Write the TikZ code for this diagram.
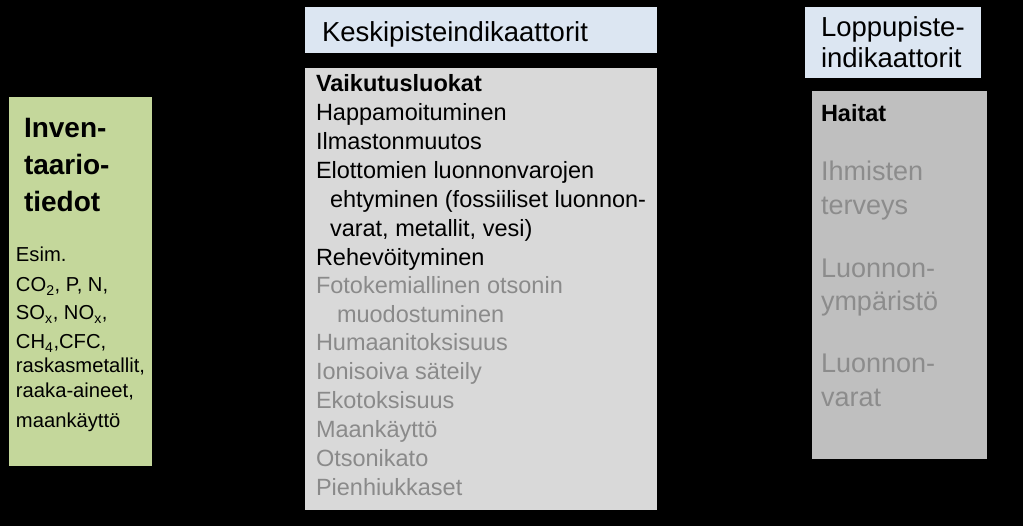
\documentclass[tikz,border=0pt]{standalone}
\usepackage{fontspec}
\setmainfont{Liberation Sans}
\definecolor{greenbox}{HTML}{C4D79B}
\definecolor{headbox}{HTML}{DCE6F2}
\definecolor{midbox}{HTML}{D9D9D9}
\definecolor{endbox}{HTML}{BFBFBF}
\definecolor{dimtext}{HTML}{8A8A8A}
\definecolor{dimtextb}{HTML}{8C8C8C}
\tikzset{
  panel/.style={anchor=north west, inner sep=0pt, outer sep=0pt, draw=none},
  txt/.style={anchor=base west, inner sep=0pt, outer sep=0pt},
  midtxt/.style={txt, font=\fontsize{23.5}{28}\selectfont},
  headtxt/.style={txt, font=\fontsize{27.5}{31}\selectfont},
  endtxt/.style={txt, font=\fontsize{27}{31}\selectfont, text=dimtextb},
  invtxt/.style={txt, font=\fontsize{20.2}{22}\selectfont},
  invhead/.style={txt, font=\bfseries\fontsize{28}{37}\selectfont},
}
\begin{document}
\begin{tikzpicture}[x=1pt,y=-1pt]
\fill[black] (0,0) rectangle (1023,526);
\useasboundingbox (0,0) rectangle (1023,526);
% boxes
\node[panel, fill=greenbox, minimum width=143pt, minimum height=369pt] (inv) at (9,97) {};
\node[panel, fill=headbox, minimum width=352pt, minimum height=46pt] (midhead) at (305,7) {};
\node[panel, fill=midbox, minimum width=352pt, minimum height=442pt] (mid) at (305,68) {};
\node[panel, fill=headbox, minimum width=176pt, minimum height=71pt] (endhead) at (805,7) {};
\node[panel, fill=endbox, minimum width=175pt, minimum height=368pt] (end) at (812,91) {};
% inventory text
\node[invhead] (i1) at (24,138) {Inven-};
\node[invhead] (i2) at (24,175) {taario-};
\node[invhead] (i3) at (24,212) {tiedot};
\node[invtxt] (e1) at (16,262) {Esim.};
\node[invtxt] (e2) at (16,292) {CO\textsubscript{2}, P, N,};
\node[invtxt] (e3) at (16,320) {SO\textsubscript{x}, NO\textsubscript{x},};
\node[invtxt] (e4) at (16,349) {CH\textsubscript{4},CFC,};
\node[invtxt] (e5) at (16,373) {raskasmetallit,};
\node[invtxt] (e6) at (16,398) {raaka-aineet,};
\node[invtxt] (e7) at (16,428) {maankäyttö};
% midpoint header
\node[headtxt] (mh) at (322,42) {Keskipisteindikaattorit};
% midpoint list
\node[midtxt, font=\bfseries\fontsize{23.5}{28}\selectfont] (m0) at (316,92) {Vaikutusluokat};
\node[midtxt] (m1) at (316,121) {Happamoituminen};
\node[midtxt] (m2) at (316,150) {Ilmastonmuutos};
\node[midtxt] (m3) at (316,179) {Elottomien luonnonvarojen};
\node[midtxt] (m3b) at (330,208) {ehtyminen (fossiiliset luonnon-};
\node[midtxt] (m3c) at (330,237) {varat,  metallit, vesi)};
\node[midtxt] (m4) at (316,266) {Rehevöityminen};
\node[midtxt, text=dimtext] (m5) at (316,294) {Fotokemiallinen otsonin};
\node[midtxt, text=dimtext] (m5b) at (337,323) {muodostuminen};
\node[midtxt, text=dimtext] (m6) at (316,351) {Humaanitoksisuus};
\node[midtxt, text=dimtext] (m7) at (316,380) {Ionisoiva säteily};
\node[midtxt, text=dimtext] (m8) at (316,409) {Ekotoksisuus};
\node[midtxt, text=dimtext] (m9) at (316,438) {Maankäyttö};
\node[midtxt, text=dimtext] (m10) at (316,467) {Otsonikato};
\node[midtxt, text=dimtext] (m11) at (316,495) {Pienhiukkaset};
% endpoint header
\node[headtxt] (eh1) at (821,37) {Loppupiste-};
\node[headtxt] (eh2) at (821,68) {indikaattorit};
% endpoint list
\node[midtxt, font=\bfseries\fontsize{23.5}{28}\selectfont] (h0) at (821,122) {Haitat};
\node[endtxt] (h1) at (821,181) {Ihmisten};
\node[endtxt] (h1b) at (821,215) {terveys};
\node[endtxt] (h2) at (821,278) {Luonnon-};
\node[endtxt] (h2b) at (821,311) {ympäristö};
\node[endtxt] (h3) at (821,373) {Luonnon-};
\node[endtxt] (h3b) at (821,407) {varat};
\end{tikzpicture}
\end{document}
